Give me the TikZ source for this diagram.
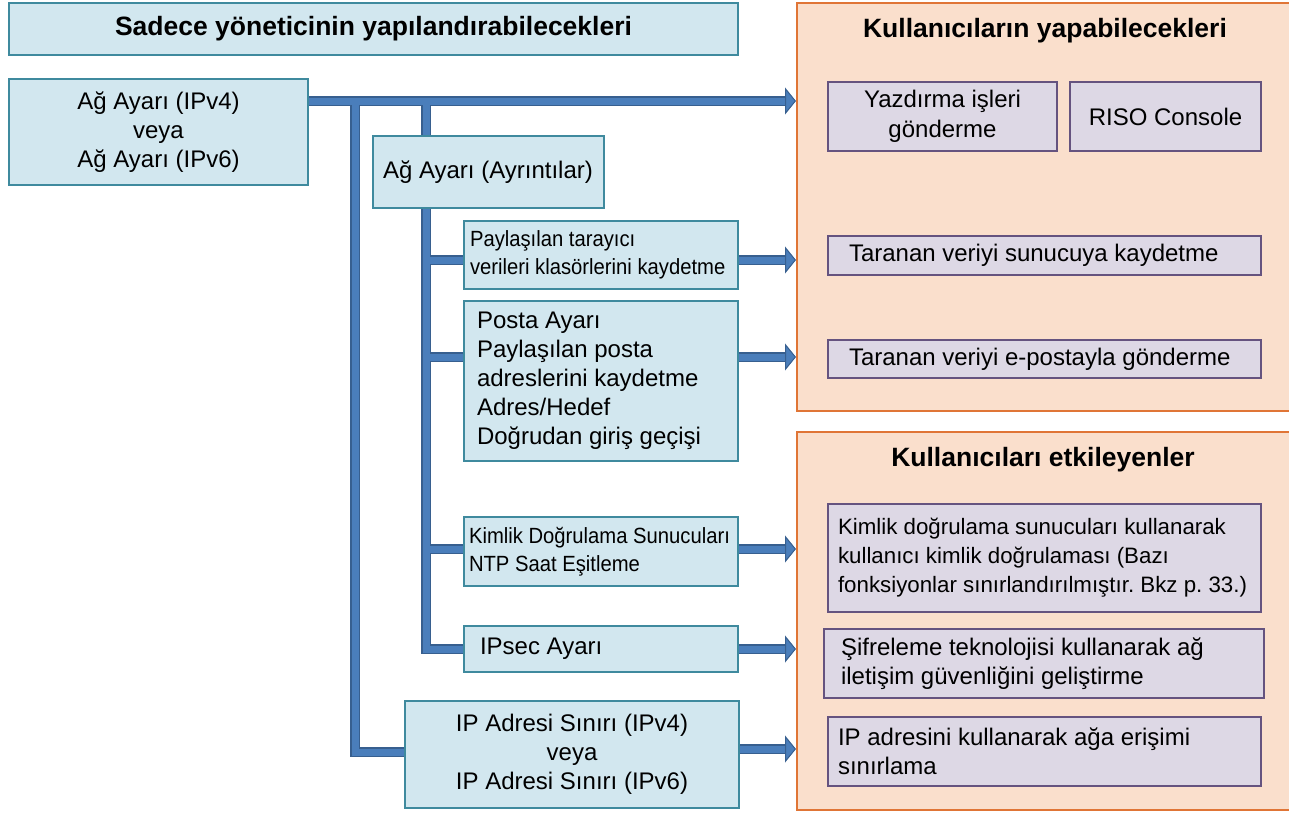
\documentclass[tikz,border=0pt]{standalone}
\usepackage{fontspec}
\setmainfont{Liberation Sans}
\newfontfamily\narrowfont{Liberation Sans}[FakeStretch=0.92]
\usetikzlibrary{arrows.meta,backgrounds,calc}
\definecolor{bfill}{HTML}{D2E7EF}
\definecolor{bline}{HTML}{3F8A9E}
\definecolor{pfill}{HTML}{DDD8E5}
\definecolor{pline}{HTML}{65537F}
\definecolor{peach}{HTML}{FADFCC}
\definecolor{orng}{HTML}{E07536}
\definecolor{pipeb}{HTML}{4A7EBB}
\definecolor{piped}{HTML}{375F8F}
\newcommand\fixsp{\spaceskip=0pt\xspaceskip=0pt\frenchspacing}
\newcommand\pipepaths[2]{%
  \draw[#1,#2] (ag.east |- t1) -- (p1.west |- t1);
  \draw[#1] (t1) -- (b1) -- (ipa.west |- b1);
  \draw[#1] (t2) -- (t2 |- ayr.north);
  \draw[#1] (t2 |- ayr.south) -- (t2 |- ipsec.west) -- (ipsec.west);
  \draw[#1] (t2 |- ya) -- (tar.west |- ya);
  \draw[#1] (t2 |- yb) -- (posta.west |- yb);
  \draw[#1] (t2 |- yc) -- (kim.west |- yc);
  \draw[#1,#2] (tar.east |- ya) -- (p1.west |- ya);
  \draw[#1,#2] (posta.east |- yb) -- (p1.west |- yb);
  \draw[#1,#2] (kim.east |- yc) -- (p2.west |- yc);
  \draw[#1,#2] (ipsec.east) -- (p2.west |- ipsec.east);
  \draw[#1,#2] (ipa.east |- yd) -- (p2.west |- yd);
}
\begin{document}
\begin{tikzpicture}[x=1pt,y=-1pt,
  txt/.style={font=\fontsize{24}{29}\selectfont},
  bbox/.style={draw=bline, fill=bfill, line width=1.8pt, inner sep=0pt, txt},
  pbox/.style={draw=pline, fill=pfill, line width=1.8pt, inner sep=0pt, txt},
  panel/.style={draw=orng, fill=peach, line width=2pt, inner sep=0pt},
  ttl/.style={font=\fontsize{26.5}{30}\selectfont\bfseries},
  narrow/.style={font=\narrowfont\fontsize{22}{28.5}\selectfont},
  lft/.style 2 args={align=left, text width=#1, inner xsep=#2, execute at begin node=\fixsp},
  pipeout/.style={draw=piped, line width=9.5pt},
  pipein/.style={draw=pipeb, line width=7pt},
  arr/.style={-{Triangle[length=11pt,width=27pt,line width=1pt,color=piped,fill=pipeb]}},
]
\useasboundingbox (0,0) rectangle (1289,812);
% left side
\node[bbox, ttl, minimum width=729pt, minimum height=52pt] (hdr) at (373.5,29) {Sadece yöneticinin yapılandırabilecekleri};
\node[bbox, minimum width=299pt, minimum height=106pt, align=center] (ag) at (158.5,132) {Ağ Ayarı (IPv4)\\veya\\Ağ Ayarı (IPv6)};
\node[bbox, minimum height=72pt, lft={211pt}{10pt}] (ayr) at (488.5,172) {\mbox{Ağ Ayarı (Ayrıntılar)}};
\node[bbox, narrow, minimum height=68pt, lft={262pt}{6pt}] (tar) at (601,255) {\mbox{Paylaşılan tarayıcı}\\\mbox{verileri klasörlerini kaydetme}};
\node[bbox, minimum height=160pt, lft={248pt}{13pt}] (posta) at (601,381) {Posta Ayarı\\Paylaşılan posta\\adreslerini kaydetme\\Adres/Hedef\\Doğrudan giriş geçişi};
\node[bbox, narrow, minimum height=69pt, lft={264pt}{5pt}] (kim) at (601,551.5) {\mbox{Kimlik Doğrulama Sunucuları}\\NTP Saat Eşitleme};
\node[bbox, minimum height=46pt, lft={242pt}{16pt}] (ipsec) at (601,649) {IPsec Ayarı};
\node[bbox, minimum width=334pt, minimum height=107pt, align=center] (ipa) at (572,754.5) {IP Adresi Sınırı (IPv4)\\veya\\IP Adresi Sınırı (IPv6)};
% right panels
\node[panel, minimum width=494pt, minimum height=408pt] (p1) at (1044,207) {};
\node[panel, minimum width=494pt, minimum height=378pt] (p2) at (1044,621) {};
\node[ttl] (p1t) at (1045,31) {Kullanıcıların yapabilecekleri};
\node[ttl] (p2t) at (1043,460) {Kullanıcıları etkileyenler};
\node[pbox, minimum width=229pt, minimum height=69pt, align=center] (yaz) at (942.5,116.5) {Yazdırma işleri\\[1.5pt]gönderme};
\node[pbox, minimum width=191pt, minimum height=69pt] (riso) at (1165.5,116.5) {RISO Console};
\node[pbox, minimum height=39pt, lft={391pt}{21pt}] (tss) at (1044.5,255.5) {Taranan veriyi sunucuya kaydetme};
\node[pbox, minimum height=38pt, lft={391pt}{21pt}] (tse) at (1044.5,359) {Taranan veriyi e-postayla gönderme};
\node[pbox, minimum height=108pt, lft={413pt}{10pt}, font=\fontsize{22.3}{29}\selectfont] (kdr) at (1044.5,558) {\mbox{Kimlik doğrulama sunucuları kullanarak}\\\mbox{kullanıcı kimlik doğrulaması (Bazı}\\\mbox{fonksiyonlar sınırlandırılmıştır. Bkz p. 33.)}};
\node[pbox, minimum height=69pt, lft={406pt}{17pt}] (sif) at (1044,663.5) {Şifreleme teknolojisi kullanarak ağ\\iletişim güvenliğini geliştirme};
\node[pbox, minimum height=69pt, lft={413pt}{10pt}] (ipr) at (1044.5,751.5) {IP adresini kullanarak ağa erişimi\\sınırlama};
% connector junctions
\coordinate (t1) at (355,101);
\coordinate (t2) at (426,101);
\coordinate (b1) at (355,752);
\coordinate (ya) at (0,260);
\coordinate (yb) at (0,357);
\coordinate (yc) at (0,549);
\coordinate (yd) at (0,749);
\begin{scope}[on background layer]
  \pipepaths{pipeout}{shorten >=8pt}
  \pipepaths{pipein}{arr}
\end{scope}
\end{tikzpicture}
\end{document}
